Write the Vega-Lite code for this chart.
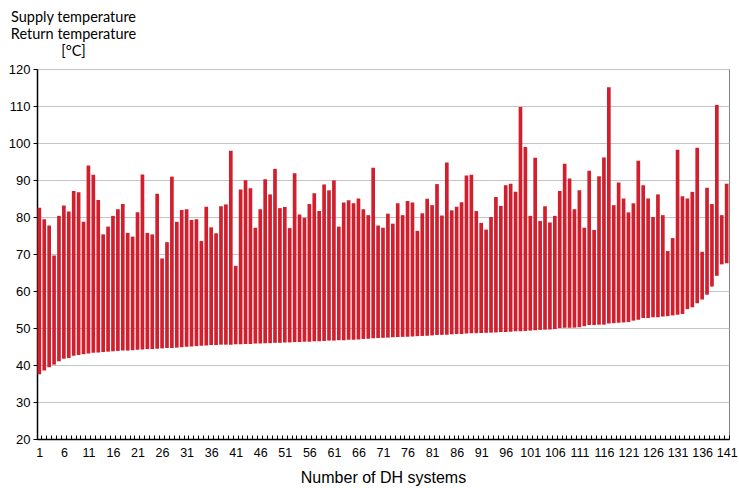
{
  "$schema": "https://vega.github.io/schema/vega-lite/v6.json",
  "width": 692,
  "height": 370,
  "autosize": "none",
  "padding": {"left": 37, "top": 69, "right": 10, "bottom": 49},
  "background": "white",
  "config": {
    "view": {"stroke": "#808080", "strokeWidth": 1},
    "font": "Liberation Sans"
  },
  "data": {"values": [
    {"n":1,"supply":82.5,"return":37.5},{"n":2,"supply":79.4,"return":38.5},{"n":3,"supply":77.7,"return":39.4},{"n":4,"supply":69.6,"return":40.1},{"n":5,"supply":80.3,"return":41.0},
    {"n":6,"supply":83.1,"return":41.7},{"n":7,"supply":81.5,"return":41.9},{"n":8,"supply":87.0,"return":42.5},{"n":9,"supply":86.7,"return":42.7},{"n":10,"supply":78.7,"return":42.9},
    {"n":11,"supply":93.9,"return":43.1},{"n":12,"supply":91.4,"return":43.3},{"n":13,"supply":84.6,"return":43.4},{"n":14,"supply":75.3,"return":43.5},{"n":15,"supply":77.4,"return":43.6},
    {"n":16,"supply":80.3,"return":43.7},{"n":17,"supply":82.1,"return":43.8},{"n":18,"supply":83.5,"return":43.9},{"n":19,"supply":75.7,"return":43.9},{"n":20,"supply":74.7,"return":44.0},
    {"n":21,"supply":81.3,"return":44.1},{"n":22,"supply":91.5,"return":44.2},{"n":23,"supply":75.7,"return":44.3},{"n":24,"supply":75.3,"return":44.3},{"n":25,"supply":86.3,"return":44.4},
    {"n":26,"supply":68.8,"return":44.5},{"n":27,"supply":73.2,"return":44.6},{"n":28,"supply":90.9,"return":44.6},{"n":29,"supply":78.7,"return":44.7},{"n":30,"supply":81.9,"return":44.8},
    {"n":31,"supply":82.1,"return":44.9},{"n":32,"supply":79.2,"return":45.0},{"n":33,"supply":79.4,"return":45.1},{"n":34,"supply":73.5,"return":45.2},{"n":35,"supply":82.8,"return":45.3},
    {"n":36,"supply":77.2,"return":45.4},{"n":37,"supply":75.6,"return":45.4},{"n":38,"supply":82.9,"return":45.5},{"n":39,"supply":83.4,"return":45.5},{"n":40,"supply":97.9,"return":45.5},
    {"n":41,"supply":66.8,"return":45.6},{"n":42,"supply":87.4,"return":45.6},{"n":43,"supply":89.9,"return":45.7},{"n":44,"supply":87.8,"return":45.7},{"n":45,"supply":77.1,"return":45.8},
    {"n":46,"supply":82.1,"return":45.8},{"n":47,"supply":90.2,"return":45.9},{"n":48,"supply":86.1,"return":45.9},{"n":49,"supply":93.0,"return":46.0},{"n":50,"supply":82.4,"return":46.0},
    {"n":51,"supply":82.7,"return":46.1},{"n":52,"supply":77.0,"return":46.1},{"n":53,"supply":91.8,"return":46.2},{"n":54,"supply":80.7,"return":46.2},{"n":55,"supply":79.8,"return":46.3},
    {"n":56,"supply":83.5,"return":46.3},{"n":57,"supply":86.4,"return":46.4},{"n":58,"supply":81.6,"return":46.4},{"n":59,"supply":88.8,"return":46.5},{"n":60,"supply":87.2,"return":46.6},
    {"n":61,"supply":89.9,"return":46.6},{"n":62,"supply":77.4,"return":46.7},{"n":63,"supply":83.9,"return":46.7},{"n":64,"supply":84.5,"return":46.8},{"n":65,"supply":83.7,"return":46.8},
    {"n":66,"supply":85.0,"return":46.9},{"n":67,"supply":82.1,"return":47.0},{"n":68,"supply":80.5,"return":47.1},{"n":69,"supply":93.3,"return":47.2},{"n":70,"supply":77.7,"return":47.3},
    {"n":71,"supply":77.1,"return":47.35},{"n":72,"supply":80.9,"return":47.4},{"n":73,"supply":78.2,"return":47.5},{"n":74,"supply":83.75,"return":47.55},{"n":75,"supply":80.5,"return":47.6},
    {"n":76,"supply":84.3,"return":47.65},{"n":77,"supply":83.9,"return":47.7},{"n":78,"supply":76.25,"return":47.8},{"n":79,"supply":81.0,"return":47.85},{"n":80,"supply":84.9,"return":47.9},
    {"n":81,"supply":83.2,"return":48.0},{"n":82,"supply":88.9,"return":48.1},{"n":83,"supply":80.4,"return":48.15},{"n":84,"supply":94.7,"return":48.2},{"n":85,"supply":81.8,"return":48.3},
    {"n":86,"supply":82.8,"return":48.35},{"n":87,"supply":84.0,"return":48.4},{"n":88,"supply":91.2,"return":48.5},{"n":89,"supply":91.4,"return":48.55},{"n":90,"supply":81.6,"return":48.6},
    {"n":91,"supply":78.4,"return":48.65},{"n":92,"supply":76.6,"return":48.7},{"n":93,"supply":80.0,"return":48.75},{"n":94,"supply":85.4,"return":48.8},{"n":95,"supply":83.0,"return":48.9},
    {"n":96,"supply":88.6,"return":48.95},{"n":97,"supply":89.0,"return":49.0},{"n":98,"supply":86.8,"return":49.1},{"n":99,"supply":109.7,"return":49.15},{"n":100,"supply":98.9,"return":49.2},
    {"n":101,"supply":80.3,"return":49.3},{"n":102,"supply":96.0,"return":49.4},{"n":103,"supply":78.9,"return":49.5},{"n":104,"supply":82.9,"return":49.55},{"n":105,"supply":78.5,"return":49.6},
    {"n":106,"supply":80.3,"return":49.7},{"n":107,"supply":87.0,"return":50.0},{"n":108,"supply":94.4,"return":50.1},{"n":109,"supply":90.4,"return":50.1},{"n":110,"supply":82.1,"return":50.1},
    {"n":111,"supply":87.2,"return":50.2},{"n":112,"supply":77.1,"return":50.5},{"n":113,"supply":92.5,"return":50.8},{"n":114,"supply":76.5,"return":50.8},{"n":115,"supply":91.0,"return":50.9},
    {"n":116,"supply":96.1,"return":50.9},{"n":117,"supply":115.1,"return":51.2},{"n":118,"supply":83.2,"return":51.3},{"n":119,"supply":89.3,"return":51.4},{"n":120,"supply":85.0,"return":51.5},
    {"n":121,"supply":81.25,"return":51.6},{"n":122,"supply":83.7,"return":52.0},{"n":123,"supply":95.2,"return":52.2},{"n":124,"supply":88.6,"return":52.7},{"n":125,"supply":85.0,"return":52.7},
    {"n":126,"supply":80.0,"return":52.9},{"n":127,"supply":86.1,"return":52.9},{"n":128,"supply":80.5,"return":53.1},{"n":129,"supply":70.8,"return":53.2},{"n":130,"supply":74.3,"return":53.4},
    {"n":131,"supply":98.2,"return":53.6},{"n":132,"supply":85.6,"return":53.8},{"n":133,"supply":85.0,"return":55.1},{"n":134,"supply":86.8,"return":55.6},{"n":135,"supply":98.7,"return":56.7},
    {"n":136,"supply":70.6,"return":57.7},{"n":137,"supply":87.9,"return":59.0},{"n":138,"supply":83.5,"return":61.2},{"n":139,"supply":110.3,"return":64.1},{"n":140,"supply":80.5,"return":67.2},
    {"n":141,"supply":89.0,"return":67.5}
  ]},
  "mark": {"type": "bar", "color": "#d21f2e"},
  "encoding": {
    "x": {
      "field": "n", "type": "ordinal",
      "scale": {"paddingInner": 0.25, "paddingOuter": 0.1},
      "axis": {
        "title": "Number of DH systems",
        "titleFont": "Liberation Sans", "titleFontSize": 16, "titleFontWeight": "normal", "titleColor": "#000",
        "titlePadding": 11,
        "labelAngle": 0, "labelFontSize": 12.5, "labelColor": "#000", "labelOverlap": false,
        "labelExpr": "(datum.value - 1) % 5 == 0 ? datum.label : ''",
        "labelPadding": 11,
        "domainColor": "#000", "domainWidth": 1.5,
        "tickColor": "#000", "tickSize": -4, "tickBand": "extent",
        "grid": false
      }
    },
    "y": {
      "field": "supply", "type": "quantitative",
      "scale": {"domain": [20, 120], "nice": false, "zero": false},
      "axis": {
        "values": [20, 30, 40, 50, 60, 70, 80, 90, 100, 110, 120],
        "title": ["Supply temperature", "Return temperature", "[°C]"],
        "titleFont": "Lato", "titleFontSize": 14.5, "titleFontWeight": "normal", "titleColor": "#000",
        "titleAngle": 0, "titleAlign": "center", "titleBaseline": "alphabetic",
        "titleX": 36, "titleY": -48, "titleLineHeight": 17,
        "labelFontSize": 13, "labelColor": "#000", "labelPadding": 3,
        "domainColor": "#000", "domainWidth": 1.5,
        "tickColor": "#000", "tickSize": 4,
        "gridColor": "#c4c4c4", "gridWidth": 1
      }
    },
    "y2": {"field": "return"}
  }
}
